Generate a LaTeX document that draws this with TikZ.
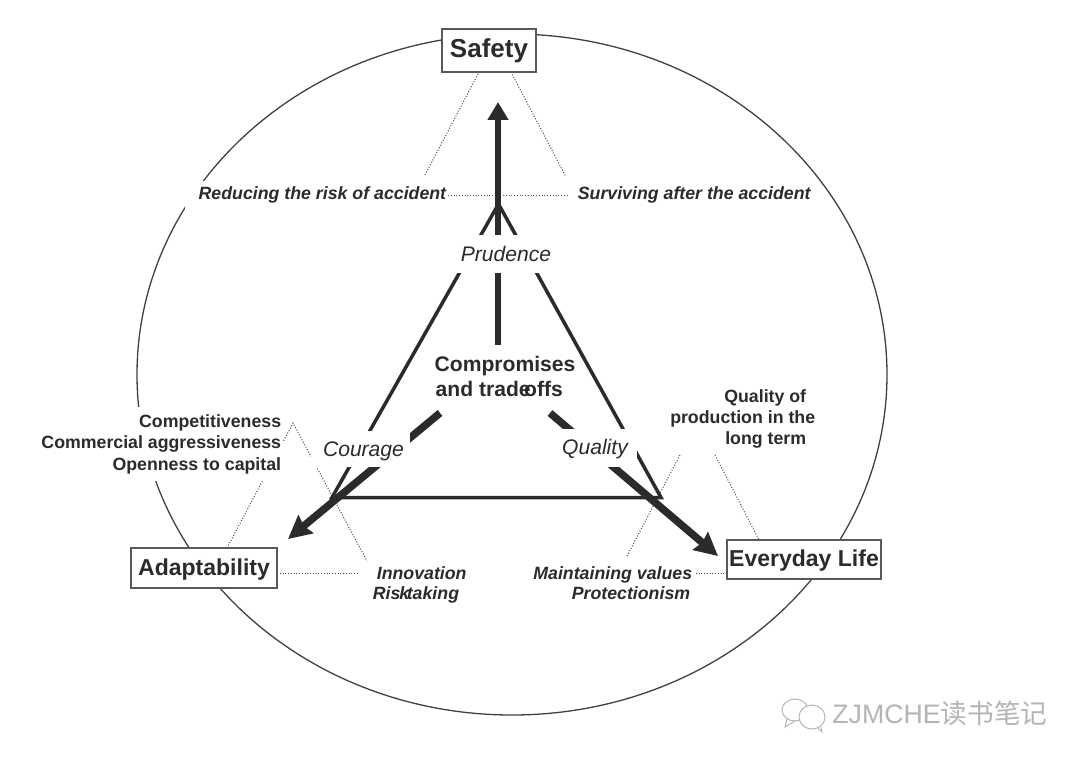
\documentclass[tikz,border=0pt]{standalone}
\usepackage{fontspec}
\setmainfont{Liberation Sans}
\newfontfamily\cjk{Noto Sans CJK SC}
\usetikzlibrary{arrows.meta, backgrounds}

\definecolor{ink}{HTML}{2B2B2B}
\definecolor{mark}{HTML}{B4B4B4}

\tikzset{
    pole/.style={rectangle, draw=black!65, line width=0.03cm, fill=white, text=ink, inner sep=0pt, text height=0.29cm, text depth=0pt, font=\bfseries\fontsize{13.1}{15}\selectfont},
    note/.style={text=ink, fill=white, inner xsep=0.03cm, inner ysep=0.02cm, font=\bfseries\fontsize{10.1}{12.2}\selectfont},
    notei/.style={note, font=\bfseries\itshape\fontsize{10.1}{11.4}\selectfont},
    virtue/.style={rectangle, text=ink, fill=white, inner sep=0pt, font=\itshape\fontsize{12}{14}\selectfont},
    spoke/.style={line width=0.15cm, draw=ink, -{Stealth[length=0.46cm, width=0.46cm, inset=0.05cm]}},
    triline/.style={line width=0.07cm, draw=ink},
    dotline/.style={densely dotted, line width=0.02cm, draw=black!70}
}

\begin{document}
\begin{tikzpicture}[x=0.02cm, y=-0.02cm]
        \useasboundingbox (0,0) rectangle (1080,761);

        % Nodes
        \node (S) [pole, minimum width=1.88cm, minimum height=0.86cm, font=\bfseries\fontsize{14.8}{17}\selectfont] at (489,50.5) {Safety};
        \node (A) [pole, minimum width=2.92cm, minimum height=0.80cm] at (204,568) {Adaptability};
        \node (E) [pole, minimum width=3.08cm, minimum height=0.78cm] at (804,559.5) {Everyday Life};

        \node (C) [text=ink, align=center, font=\bfseries\fontsize{12}{14.2}\selectfont] at (505,376) {Compromises\\and trade\kern-0.13cm offs\hspace*{0.23cm}};

        \node (P) [virtue, minimum width=2.12cm, minimum height=0.76cm] at (503,254) {\hspace*{0.12cm}Prudence};
        \node (G) [virtue, minimum width=1.98cm, minimum height=0.72cm, text depth=0pt] at (360.5,449) {\hspace*{0.12cm}Courage};
        \node (Q) [virtue, minimum width=1.64cm, minimum height=0.76cm, text depth=0.06cm] at (596,448) {Quality\hspace*{0.04cm}};

        \node (risk) [notei, anchor=east, minimum height=0.56cm] at (448,195) {\hspace*{0.24cm}Reducing the risk of accident};
        \node (surv) [notei, anchor=west] at (576,195) {Surviving after the accident};
        \node (comp) [note, anchor=east, align=right, inner ysep=0.14cm] at (283,444) {Competitiveness\\Commercial aggressiveness\\Openness to capital};
        \node (inno) [notei, anchor=west, align=left] at (371,585) {\hspace*{0.08cm}Innovation\\Ris\kern-0.02cm k\kern-0.05cm taking};
        \node (main) [notei, anchor=east, align=right] at (694,583) {Maintaining values\\Protectionism\hspace*{0.04cm}};
        \node (prod) [note, anchor=east, align=right] at (817,419) {Quality of\hspace*{0.18cm}\\production in the\\long term\hspace*{0.18cm}};

        \node (wm) [anchor=west, inner sep=0pt, text=mark, font=\fontsize{15.2}{17}\selectfont] at (832,713) {ZJMCHE{\cjk 读书笔记}};

        % Free ends
        \coordinate (riskEnd) at (425,175);
        \coordinate (survEnd) at (566,177);
        \coordinate (midEnd) at (567,195);
        \coordinate (apex) at (293,423);
        \coordinate (innoEnd) at (367,561);
        \coordinate (adaEnd) at (358,573);
        \coordinate (mainEnd) at (627,556);
        \coordinate (mainTop) at (680,455);
        \coordinate (prodTop) at (715,455);

        \coordinate (triT) at (498.5,204);
        \coordinate (triL) at (332,497.5);
        \coordinate (triR) at (661,497.5);

        \coordinate (hubS) at (498,345);
        \coordinate (hubL) at (440,413);
        \coordinate (hubR) at (550,413);
        \coordinate (tipS) at (498,102);
        \coordinate (tipL) at (288,539);
        \coordinate (tipR) at (718,556);

        \begin{scope}[on background layer]
            \draw[line width=0.026cm, draw=black!75] (512,374.5) ellipse [x radius=375, y radius=340.5];

            % Dotted lines
            \draw[dotline] (riskEnd) -- (479,72);
            \draw[dotline] (511,72) -- (survEnd);
            \draw[dotline] (risk.east) -- (midEnd);
            \draw[dotline] (227,548) -- (apex) -- (innoEnd);
            \draw[dotline] (277,573) -- (adaEnd);
            \draw[dotline] (mainEnd) -- (mainTop);
            \draw[dotline] (prodTop) -- (759,540);
            \draw[dotline] (693,573) -- (727,573);

            % Triangle
            \draw[triline] (triT) -- (triL) -- (triR) -- cycle;

            % Arrows
            \draw[spoke, -{Triangle[length=0.36cm, width=0.40cm]}, line width=0.12cm] (hubS) -- (tipS);
            \draw[spoke] (hubL) -- (tipL);
            \draw[spoke] (hubR) -- (tipR);

            % Mark
            \draw[draw=mark, line width=0.02cm] (795,710) ellipse [x radius=13, y radius=11];
            \draw[draw=mark, fill=white, line width=0.02cm] (812,717) ellipse [x radius=13, y radius=12];
            \draw[draw=mark, line width=0.02cm] (787,719) -- (785,727) -- (795,721);
            \draw[draw=mark, line width=0.02cm] (818,728) -- (822,732) -- (821,727);
        \end{scope}

    \end{tikzpicture}
\end{document}
